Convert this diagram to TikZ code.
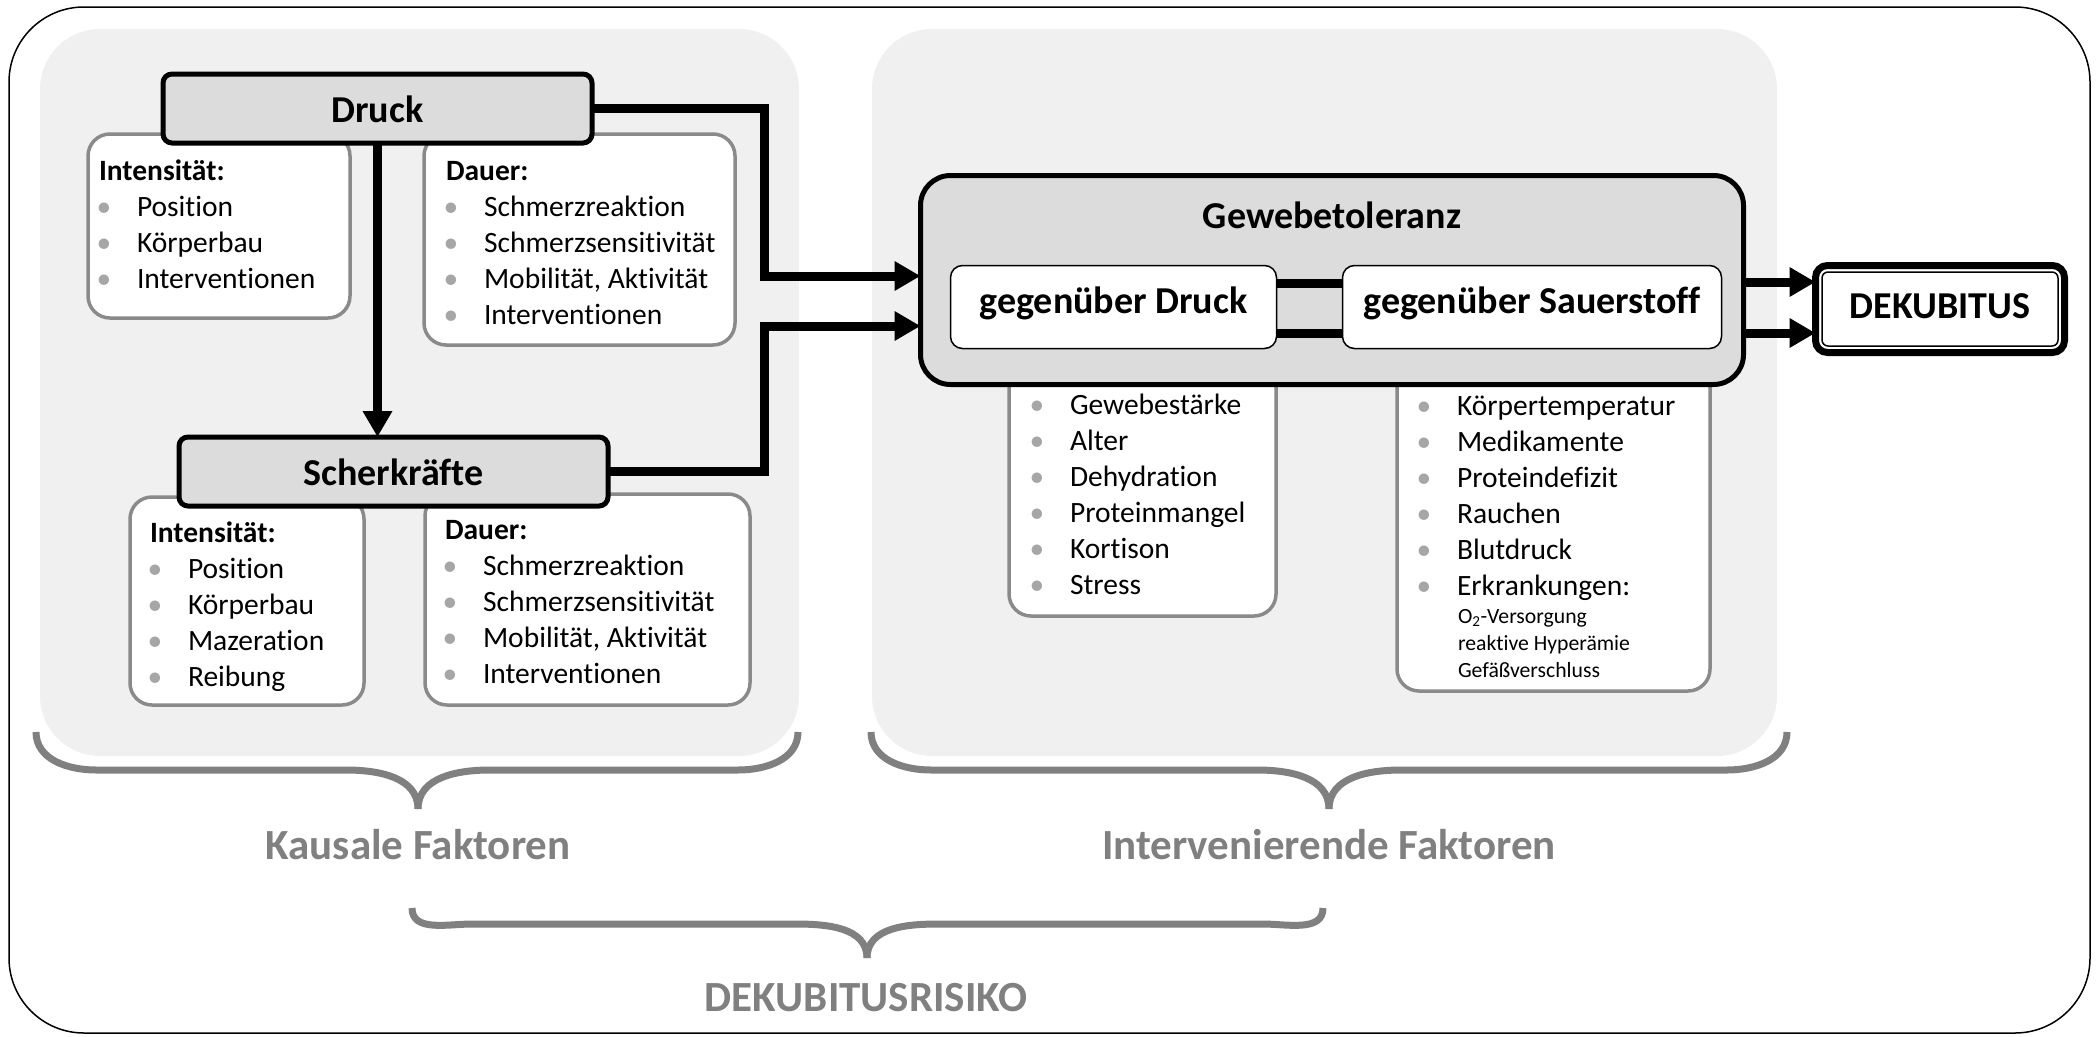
\documentclass[tikz,border=0pt]{standalone}
\usepackage{fontspec}
\setmainfont{Carlito}[Ligatures={NoCommon}]
\usetikzlibrary{arrows.meta,calc}
\definecolor{panel}{HTML}{F0F0F0}
\definecolor{hdr}{HTML}{DCDCDC}
\definecolor{lbord}{HTML}{8A8A8A}
\definecolor{brc}{HTML}{808080}
\definecolor{bulc}{HTML}{A6A6A6}
\newcommand\bul[1]{\hspace{5pt}\makebox[0pt]{\textcolor{bulc}{\textbullet}}\hspace{33pt}#1}
\newcommand\listfont{\fontsize{29.5}{36}\selectfont}
\newcommand\hdrfont{\fontsize{38}{44}\selectfont\bfseries}
\newcommand\mybrace[6]{%
  \draw[brace] (#1,-#4) to[out=-90,in=180] ({#1+60},-#5) -- ({#2-72},-#5) to[out=0,in=90] (#2,-#6);
  \draw[brace] (#3,-#4) to[out=-90,in=0] ({#3-60},-#5) -- ({#2+72},-#5) to[out=180,in=90] (#2,-#6);}
\begin{document}
\begin{tikzpicture}[x=1pt,y=1pt,
  every node/.style={inner sep=0pt, outer sep=0pt},
  panelbox/.style={fill=panel, draw=none, rounded corners=60pt},
  hdrbox/.style={draw=black, line width=5pt, fill=hdr, rounded corners=9pt, font=\hdrfont},
  listbox/.style={draw=lbord, line width=3.5pt, fill=white, rounded corners=22pt},
  innerbox/.style={draw=black, line width=1.5pt, fill=white, rounded corners=12pt, font=\hdrfont},
  listtext/.style={anchor=base west, font=\listfont},
  conn/.style={line width=9pt},
  arr/.style={line width=9pt, -{Triangle[length=26pt,width=28pt]}},
  brace/.style={draw=brc, line width=7pt},
  biglabel/.style={text=brc, font=\fontsize{43}{50}\selectfont\bfseries, anchor=base},
]
\useasboundingbox (0,0) rectangle (2098,-1036);
% outer frame
\draw[line width=1.5pt, rounded corners=75pt] (9,-7) rectangle (2090,-1033);
% panels
\fill[panelbox] (40,-29) rectangle (799,-756);
\fill[panelbox] (872,-29) rectangle (1777,-756);

% list boxes
\node[listbox, minimum width=262pt, minimum height=184pt] (i1) at (219,-226) {};
\node[listbox, minimum width=311pt, minimum height=211pt] (d1) at (579.5,-239.5) {};
\node[listbox, minimum width=234pt, minimum height=208pt] (i2) at (247,-601) {};
\node[listbox, minimum width=325pt, minimum height=211pt] (d2) at (587.5,-599.5) {};
\node[listbox, minimum width=267pt, minimum height=256pt] (g1) at (1142.5,-488) {};
\node[listbox, minimum width=313pt, minimum height=331pt] (g2) at (1553.5,-525.5) {};

% list texts
\node[listtext] (i1t) at (99,-180) {\begin{tabular}[t]{@{}l@{}}\textbf{Intensität:}\\ \bul{Position}\\ \bul{Körperbau}\\ \bul{Interventionen}\end{tabular}};
\node[listtext] (d1t) at (446,-180) {\begin{tabular}[t]{@{}l@{}}\textbf{Dauer:}\\ \bul{Schmerzreaktion}\\ \bul{Schmerzsensitivität}\\ \bul{Mobilität, Aktivität}\\ \bul{Interventionen}\end{tabular}};
\node[listtext] (i2t) at (150,-542) {\begin{tabular}[t]{@{}l@{}}\textbf{Intensität:}\\ \bul{Position}\\ \bul{Körperbau}\\ \bul{Mazeration}\\ \bul{Reibung}\end{tabular}};
\node[listtext] (d2t) at (445,-539) {\begin{tabular}[t]{@{}l@{}}\textbf{Dauer:}\\ \bul{Schmerzreaktion}\\ \bul{Schmerzsensitivität}\\ \bul{Mobilität, Aktivität}\\ \bul{Interventionen}\end{tabular}};
\node[listtext] (g1t) at (1032,-414) {\begin{tabular}[t]{@{}l@{}}\bul{Gewebestärke}\\ \bul{Alter}\\ \bul{Dehydration}\\ \bul{Proteinmangel}\\ \bul{Kortison}\\ \bul{Stress}\end{tabular}};
\node[listtext] (g2t) at (1419,-415) {\begin{tabular}[t]{@{}l@{}}\bul{Körpertemperatur}\\ \bul{Medikamente}\\ \bul{Proteindefizit}\\ \bul{Rauchen}\\ \bul{Blutdruck}\\ \bul{Erkrankungen:}\end{tabular}};
\node[anchor=base west, font=\fontsize{21.7}{27}\selectfont] (g2s) at (1458,-623) {\begin{tabular}[t]{@{}l@{}}O\textsubscript{2}-Versorgung\\ reaktive Hyperämie\\ Gefäßverschluss\end{tabular}};

% header boxes
\node[hdrbox, minimum width=429pt, minimum height=69pt, text height=27pt, text depth=0pt] (druck) at (377.5,-108.5) {Druck};
\node[hdrbox, minimum width=429pt, minimum height=69pt, text height=27pt, text depth=0pt] (scher) at (393.5,-471.5) {Scherkräfte};
\node[hdrbox, minimum width=823pt, minimum height=209pt, rounded corners=30pt] (gew) at (1332,-280) {};
\node[font=\hdrfont, anchor=base] (gewt) at (1332,-228) {Gewebetoleranz};
\node[innerbox, minimum width=326pt, minimum height=83pt, text height=24pt, text depth=12pt] (gD) at (1113.5,-307) {gegenüber Druck};
\node[innerbox, minimum width=379pt, minimum height=83pt, text height=24pt, text depth=12pt] (gS) at (1532,-307) {gegenüber Sauerstoff};
\node[draw=black, line width=7pt, fill=white, rounded corners=12pt, minimum width=249pt, minimum height=87pt, text height=22pt, text depth=4pt, font=\hdrfont] (dek) at (1940,-309) {DEKUBITUS};
\draw[line width=1.5pt, rounded corners=6pt] ([shift={(6.5,-6.5)}]dek.north west) rectangle ([shift={(-6.5,6.5)}]dek.south east);

% connectors
\coordinate (j1) at (764,0);
\coordinate (in1) at ([yshift=4pt]gew.west);
\coordinate (in2) at ([yshift=-46pt]gew.west);
\draw[arr] (druck.east) -- (druck.east -| j1) -- (j1 |- in1) -- (in1);
\draw[arr] (scher.east) -- (scher.east -| j1) -- (j1 |- in2) -- (in2);
\draw[arr] (druck.south) -- (druck.south |- scher.north);
\draw[conn] ([yshift=24pt]gD.east) -- ([yshift=24pt]gD.east -| gS.west);
\draw[conn] ([yshift=-26pt]gD.east) -- ([yshift=-26pt]gD.east -| gS.west);
\draw[arr] ([yshift=-2pt]gew.east) -- ([yshift=-2pt]gew.east -| dek.west);
\draw[arr] ([yshift=-53pt]gew.east) -- ([yshift=-53pt]gew.east -| dek.west);

% braces
\mybrace{36}{418}{798}{732}{770}{809}
\mybrace{871}{1329}{1787}{732}{770}{809}
\mybrace{412}{867}{1323}{908}{924}{958}

% labels
\node[biglabel] (kf) at (418,-859) {Kausale Faktoren};
\node[biglabel] (ivf) at (1329,-859) {Intervenierende Faktoren};
\node[biglabel] (dr) at (866,-1011) {DEKUBITUSRISIKO};
\end{tikzpicture}
\end{document}
